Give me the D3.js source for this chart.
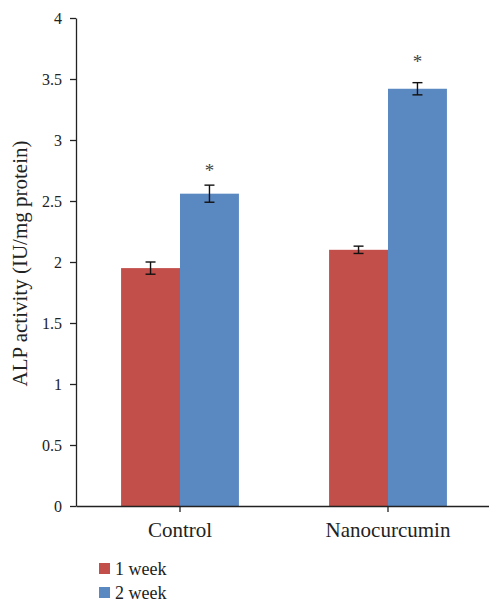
<!DOCTYPE html>
<html>
<head>
<meta charset="utf-8">
<script src="https://cdn.jsdelivr.net/npm/d3@7"></script>
<style>
  body { margin: 0; background: #fff; }
  svg text { font-family: "Liberation Serif", "Times New Roman", "DejaVu Serif", serif; fill: #222; }
</style>
</head>
<body>
<div id="wrapper"></div>
<script>
// data
const groups = ["Control", "Nanocurcumin"];
const seriesNames = ["1 week", "2 week"];
const week1 = [1.95, 2.10];
const week1Err = [0.05, 0.03];
const week2 = [2.56, 3.42];
const week2Err = [0.07, 0.05];
// where the "*" sits (in y units), only on the 2 week bars
const starY = [2.79, 3.69];
const yTicks = [0, 0.5, 1, 1.5, 2, 2.5, 3, 3.5, 4];

const colors = ["#c24f4a", "#5a88c1"];

const drawBarChart = () => {
  let dimensions = {
    width: 489,
    height: 601,
    margin: {
      top: 18,
      right: -3,
      bottom: 95,
      left: 76,
    },
  }
  dimensions.boundedWidth = dimensions.width
    - dimensions.margin.left
    - dimensions.margin.right
  dimensions.boundedHeight = dimensions.height
    - dimensions.margin.top
    - dimensions.margin.bottom

  const svg = d3.select("#wrapper")
    .append("svg")
      .attr("width", dimensions.width)
      .attr("height", dimensions.height)

  const bounds = svg.append("g")
    .attr("transform", `translate(${dimensions.margin.left},${dimensions.margin.top})`)

  // rows for the bars
  const rows = groups.map((g, i) => ({
    group: g,
    values: [
      { series: seriesNames[0], value: week1[i], err: week1Err[i] },
      { series: seriesNames[1], value: week2[i], err: week2Err[i] },
    ],
  }))

  // scales
  const yScale = d3.scaleLinear()
    .domain([0, 4])
    .range([dimensions.boundedHeight, 0])

  const xScale = d3.scaleBand()
    .domain(groups)
    .range([0, dimensions.boundedWidth])
    .padding(0)

  const x1Scale = d3.scaleBand()
    .domain(seriesNames)
    .range([0, xScale.bandwidth()])
    .paddingInner(0)
    .paddingOuter(0.765)

  const colorScale = d3.scaleOrdinal()
    .domain(seriesNames)
    .range(colors)

  // bars
  const groupG = bounds.selectAll(".group")
    .data(rows)
    .join("g")
      .attr("class", "group")
      .attr("transform", d => `translate(${xScale(d.group)},0)`)

  groupG.selectAll("rect")
    .data(d => d.values)
    .join("rect")
      .attr("x", d => x1Scale(d.series))
      .attr("width", x1Scale.bandwidth())
      .attr("y", d => yScale(d.value))
      .attr("height", d => dimensions.boundedHeight - yScale(d.value))
      .attr("fill", d => colorScale(d.series))

  // error bars
  const capHalf = 5
  const errG = groupG.selectAll(".err")
    .data(d => d.values)
    .join("g")
      .attr("class", "err")
      .attr("transform", d => `translate(${x1Scale(d.series) + x1Scale.bandwidth() / 2},0)`)
      .attr("stroke", "#111")
      .attr("stroke-width", 1.4)

  errG.append("line")
    .attr("y1", d => yScale(d.value + d.err))
    .attr("y2", d => yScale(d.value - d.err))
  errG.append("line")
    .attr("x1", -capHalf).attr("x2", capHalf)
    .attr("y1", d => yScale(d.value + d.err))
    .attr("y2", d => yScale(d.value + d.err))
  errG.append("line")
    .attr("x1", -capHalf).attr("x2", capHalf)
    .attr("y1", d => yScale(d.value - d.err))
    .attr("y2", d => yScale(d.value - d.err))

  // significance stars
  bounds.selectAll(".star")
    .data(groups)
    .join("text")
      .attr("class", "star")
      .attr("x", (d, i) => xScale(d) + x1Scale(seriesNames[1]) + x1Scale.bandwidth() / 2)
      .attr("y", (d, i) => yScale(starY[i]))
      .attr("dy", "0.62em")
      .attr("text-anchor", "middle")
      .style("font-size", "19px")
      .style("fill", "#444")
      .text("*")

  // axes
  const yAxis = bounds.append("g")
    .call(d3.axisLeft(yScale)
      .tickValues(yTicks)
      .tickFormat(d3.format("~g"))
      .tickSize(6)
      .tickSizeOuter(0)
      .tickPadding(8))
  yAxis.selectAll("text").style("font-size", "16px")

  const xAxis = bounds.append("g")
    .attr("transform", `translate(0,${dimensions.boundedHeight})`)
    .call(d3.axisBottom(xScale)
      .tickSize(6)
      .tickSizeOuter(0)
      .tickPadding(10))
  xAxis.selectAll("text").style("font-size", "21px")

  svg.selectAll(".domain, .tick line")
    .attr("stroke", "#222")
    .attr("stroke-width", 1.3)

  // y label
  svg.append("text")
    .attr("transform", `translate(27,263.5) rotate(-90)`)
    .attr("text-anchor", "middle")
    .style("font-size", "21px")
    .text("ALP activity (IU/mg protein)")

  // legend
  const legend = svg.append("g")
    .attr("transform", "translate(99,563)")
  const item = legend.selectAll("g")
    .data(seriesNames)
    .join("g")
      .attr("transform", (d, i) => `translate(0,${i * 24})`)
  item.append("rect")
    .attr("width", 11)
    .attr("height", 11)
    .attr("fill", d => colorScale(d))
  item.append("text")
    .attr("x", 16)
    .attr("y", 11.5)
    .style("font-size", "18px")
    .text(d => d)
}

drawBarChart();
</script>
</body>
</html>
